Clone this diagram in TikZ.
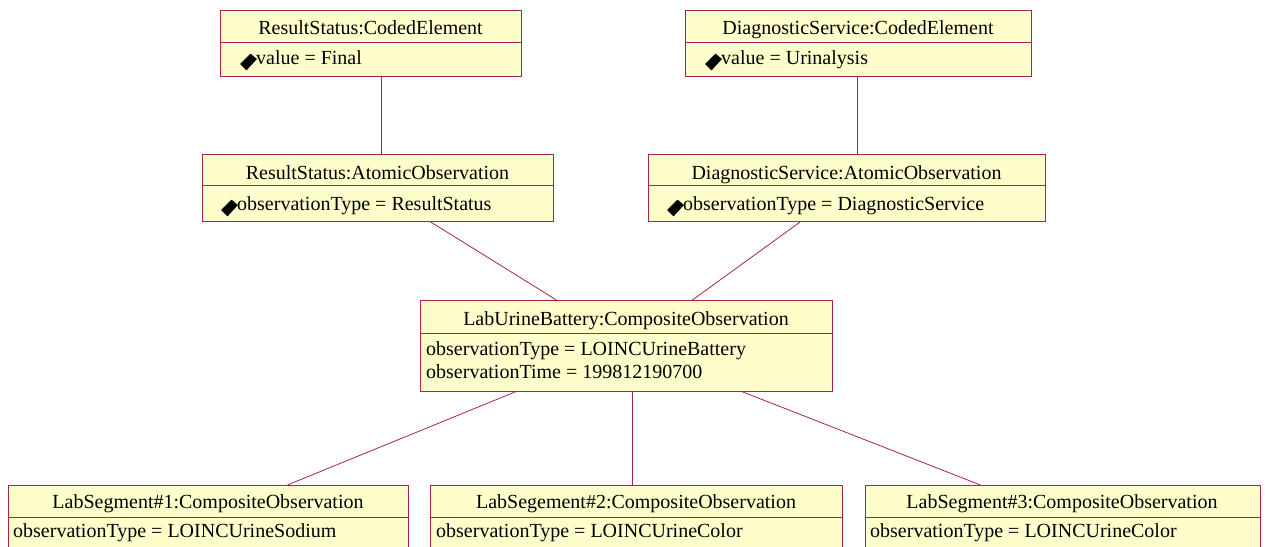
\documentclass[tikz,border=0pt]{standalone}
\usepackage{fontspec}
\setmainfont{Liberation Serif}
\begin{document}
\begin{tikzpicture}[x=1pt,y=-1pt,
  box/.style={draw=umlred, fill=umlfill, line width=0.8pt, rectangle, anchor=north west, inner sep=0pt},
  link/.style={draw=umlred, line width=0.8pt},
  title/.style={font=\fontsize{20}{23}\selectfont, inner sep=0pt, anchor=base},
  attr/.style={font=\fontsize{20}{23}\selectfont, inner sep=0pt, anchor=base west},
  icon/.style={fill=black, draw=black, line width=0.5pt, line join=round}
]
\definecolor{umlred}{HTML}{A8244E}
\definecolor{umlfill}{HTML}{FFFFCC}
\clip (0,0) rectangle (1265,546);
\fill[white] (0,0) rectangle (1265,546);

% boxes
\node[box, minimum width=301pt, minimum height=66pt] (rsce) at (220,10) {};
\node[box, minimum width=346pt, minimum height=66pt] (dsce) at (685,10) {};
\node[box, minimum width=351pt, minimum height=67pt] (rsao) at (202,154) {};
\node[box, minimum width=397pt, minimum height=67pt] (dsao) at (648,154) {};
\node[box, minimum width=412pt, minimum height=91pt] (lub) at (420,300) {};
\node[box, minimum width=400pt, minimum height=90pt] (seg1) at (8,485) {};
\node[box, minimum width=412pt, minimum height=90pt] (seg2) at (430,485) {};
\node[box, minimum width=395pt, minimum height=90pt] (seg3) at (865,485) {};

% dividers
\foreach \b/\d in {rsce/32, dsce/32, rsao/31, dsao/31, lub/33, seg1/32, seg2/32, seg3/32}
  \draw[link] ([yshift=-\d pt]\b.north west) -- ([yshift=-\d pt]\b.north east);

% titles
\node[title] (t1) at (370.5,34) {ResultStatus:CodedElement};
\node[title] (t2) at (858,34) {DiagnosticService:CodedElement};
\node[title] (t3) at (377.5,179) {ResultStatus:AtomicObservation};
\node[title] (t4) at (846.5,179) {DiagnosticService:AtomicObservation};
\node[title] (t5) at (626,325) {LabUrineBattery:CompositeObservation};
\node[title] (t6) at (208,508) {LabSegment\#1:CompositeObservation};
\node[title] (t7) at (636,508) {LabSegement\#2:CompositeObservation};
\node[title] (t8) at (1062,508) {LabSegment\#3:CompositeObservation};

% attributes
\node[attr] (a1) at (256,64) {value = Final};
\node[attr] (a2) at (721,64) {value = Urinalysis};
\node[attr] (a3) at (237,210) {observationType = ResultStatus};
\node[attr] (a4) at (683,210) {observationType = DiagnosticService};
\node[attr] (a5) at (426,355) {observationType = LOINCUrineBattery};
\node[attr] (a5b) at (426,378) {observationTime = 199812190700};
\node[attr] (a6) at (13,537) {observationType = LOINCUrineSodium};
\node[attr] (a7) at (436,537) {observationType = LOINCUrineColor};
\node[attr] (a8) at (870,537) {observationType = LOINCUrineColor};

% diamond icons
\foreach \cx/\cy in {248.5/62, 713.5/62, 229.5/208, 675.5/208}
  \draw[icon] (\cx-8,\cy+2) -- (\cx+2,\cy-8) -- (\cx+8,\cy-3) -- (\cx-2,\cy+8) -- cycle;

% connectors
\draw[link] ([xshift=10.5pt]rsce.south) -- ([xshift=3.5pt]rsao.north);
\draw[link] ([xshift=-1pt]dsce.south) -- ([xshift=10.5pt]dsao.north);
\draw[link] ([xshift=52.5pt]rsao.south) -- ([xshift=-70pt]lub.north);
\draw[link] ([xshift=-46.5pt]dsao.south) -- ([xshift=66pt]lub.north);
\draw[link] ([xshift=-111pt]lub.south) -- ([xshift=79pt]seg1.north);
\draw[link] ([xshift=6pt]lub.south) -- ([xshift=-4pt]seg2.north);
\draw[link] ([xshift=116pt]lub.south) -- ([xshift=-82.5pt]seg3.north);
\end{tikzpicture}
\end{document}
